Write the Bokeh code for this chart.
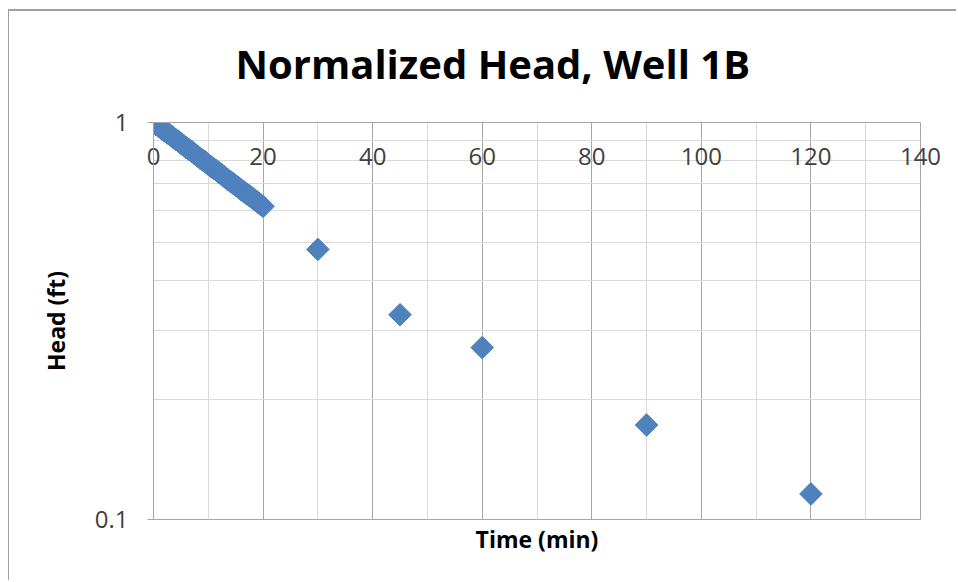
import numpy as np
from bokeh.plotting import figure
from bokeh.models import FixedTicker, Title, ColumnDataSource
from bokeh.embed import file_html
from bokeh.resources import INLINE

# ---- data ----
time_min = [0, 0.5, 1, 1.5, 2, 2.5, 3, 3.5, 4, 4.5, 5, 5.5, 6, 6.5, 7, 7.5,
            8, 8.5, 9, 9.5, 10, 10.5, 11, 11.5, 12, 12.5, 13, 13.5, 14, 14.5,
            15, 15.5, 16, 16.5, 17, 17.5, 18, 18.5, 19, 19.5, 20,
            30, 45, 60, 90, 120]
head_norm = [1.000, 0.987, 0.976, 0.964, 0.952, 0.941, 0.931, 0.919, 0.907, 0.898,
             0.886, 0.875, 0.864, 0.854, 0.845, 0.834, 0.823, 0.813, 0.804, 0.795,
             0.784, 0.774, 0.765, 0.757, 0.747, 0.738, 0.729, 0.719, 0.711, 0.703,
             0.694, 0.686, 0.677, 0.669, 0.661, 0.654, 0.646, 0.638, 0.630, 0.622,
             0.615,
             0.479, 0.328, 0.271, 0.173, 0.116]

x_ticks = [0, 20, 40, 60, 80, 100, 120, 140]
x_minor = [10, 30, 50, 70, 90, 110, 130]
y_ticks = [0.1, 1]
y_minor = [0.2, 0.3, 0.4, 0.5, 0.6, 0.7, 0.8, 0.9]
y_labels = {0.1: "0.1", 1: "1"}

TITLE = "Normalized Head, Well 1B"
XLABEL = "Time (min)"
YLABEL = "Head (ft)"

FONT = "Open Sans"
MAJOR = "#a6a6a6"
MINOR = "#d9d9d9"
BLUE = "#4f81bd"

p = figure(width=956, height=580, x_range=(0, 140), y_range=(0.1, 1),
           y_axis_type="log", x_axis_location="above",
           output_backend="svg", toolbar_location=None,
           min_border_left=153, min_border_right=36, min_border_top=122,
           min_border_bottom=61)

# chart-area border (top and left edges) drawn behind a transparent canvas border
p.border_fill_color = None
p.background_fill_color = "white"
p.styles = {
    "background-image": "linear-gradient(#a0a0a0, #a0a0a0), linear-gradient(#a0a0a0, #a0a0a0)",
    "background-position": "8px 9px, 8px 9px",
    "background-size": "1px 100%, 100% 2px",
    "background-repeat": "no-repeat",
}

# title
p.title.text = TITLE
p.title.align = "left"
p.title.offset = 82
p.title.text_font = FONT
p.title.text_font_size = "40px"
p.title.text_font_style = "bold"
p.title.text_color = "black"
p.title.standoff = 63

# x axis along y = 1 (top), labels hang down inside the plot
xa = p.xaxis[0]
xa.ticker = FixedTicker(ticks=x_ticks, minor_ticks=x_minor)
xa.major_tick_in = 0
xa.major_tick_out = 0
xa.minor_tick_in = 0
xa.minor_tick_out = 0
xa.axis_line_color = MAJOR
xa.major_label_standoff = -42
xa.major_label_text_font = FONT
xa.major_label_text_font_size = "24px"
xa.major_label_text_color = "#404040"

p.add_layout(Title(text=XLABEL, align="center", text_font=FONT,
                   text_font_size="23px", text_font_style="bold",
                   text_color="black", standoff=2), "below")

# y axis
ya = p.yaxis[0]
ya.ticker = FixedTicker(ticks=y_ticks, minor_ticks=y_minor)
ya.major_label_overrides = y_labels
ya.major_tick_in = 0
ya.major_tick_out = 6
ya.minor_tick_in = 0
ya.minor_tick_out = 0
ya.axis_line_color = MAJOR
ya.major_tick_line_color = MAJOR
ya.major_label_standoff = 19
ya.major_label_text_font = FONT
ya.major_label_text_font_size = "24px"
ya.major_label_text_color = "#404040"
ya.axis_label = YLABEL
ya.axis_label_text_font = FONT
ya.axis_label_text_font_size = "23px"
ya.axis_label_text_font_style = "bold"
ya.axis_label_text_color = "black"
ya.axis_label_standoff = 20

# grids
p.xgrid.ticker = FixedTicker(ticks=x_ticks, minor_ticks=x_minor)
p.xgrid.grid_line_color = MAJOR
p.xgrid.minor_grid_line_color = MINOR
p.ygrid.ticker = FixedTicker(ticks=y_ticks, minor_ticks=y_minor)
p.ygrid.grid_line_color = MAJOR
p.ygrid.minor_grid_line_color = MINOR
p.outline_line_color = MAJOR

src = ColumnDataSource(dict(t=time_min, h=head_norm))
p.scatter("t", "h", source=src, marker="square", size=16, angle=np.pi / 4,
          fill_color=BLUE, line_color=BLUE)

open("out.html", "w").write(file_html(p, INLINE))
